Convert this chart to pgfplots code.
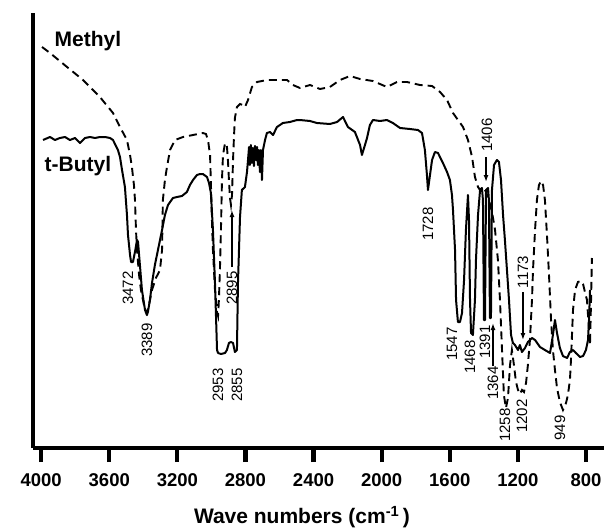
\documentclass[border=0pt]{standalone}
\usepackage{fontspec}
\setmainfont{Liberation Sans}
\usepackage{pgfplots}
\pgfplotsset{compat=1.18}
\usetikzlibrary{arrows.meta}

\begin{document}
\begin{tikzpicture}
\useasboundingbox (-33pt,-80pt) rectangle (571pt,448pt);
\begin{axis}[
  at={(0,0)}, anchor=south west,
  scale only axis, width=571pt, height=435pt,
  x dir=reverse, xmin=694, xmax=4048, ymin=0, ymax=435,
  axis x line=bottom, axis y line=left,
  axis line style={line width=4.2pt,-},
  xtick={4000,3600,...,800}, ytick=\empty,
  tick align=outside, major tick length=14pt,
  every tick/.style={line width=4.2pt,black},
  scaled ticks=false,
  /pgf/number format/1000 sep={},
  /pgf/number format/assume math mode=true,
  xticklabel style={font=\bfseries\fontsize{18.5}{20}\selectfont, yshift=-8pt},
  xlabel={Wave numbers (cm\textsuperscript{-1}\,)},
  xlabel style={font=\bfseries\fontsize{21}{24}\selectfont,
    at={(axis description cs:0.471,-0.1586)}, anchor=center},
  clip=false,
]
% t-Butyl (solid)
\addplot[black, line width=2pt, line join=round] coordinates {
(3989,308)(3948,311)(3919,308)(3890,310)(3860,311)(3831,308)(3801,310)(3772,305)
(3743,310)(3713,311)(3684,310)(3655,311)(3625,311)(3596,310)(3578,308)(3549,298)
(3537,291)(3525,278)(3508,261)(3496,233)(3490,213)(3478,193)(3472,186)(3461,186)
(3449,196)(3437,208)(3431,206)(3420,183)(3408,158)(3390,138)(3379,133)(3373,136)
(3361,148)(3349,165)(3332,183)(3314,198)(3290,218)(3273,233)(3255,243)(3226,250)
(3202,251)(3173,252)(3144,256)(3126,263)(3108,268)(3085,273)(3067,274)(3050,274)
(3026,271)(3014,265)(3003,255)(2991,218)(2979,165)(2967,98)(2961,95)(2944,94)
(2920,95)(2909,98)(2897,105)(2885,106)(2873,105)(2862,96)(2850,98)(2844,165)
(2832,231)(2821,258)(2803,261)(2791,276)(2785,288)(2779,301)(2774,283)(2768,303)
(2762,285)(2756,300)(2750,282)(2744,302)(2738,288)(2732,301)(2727,283)(2721,298)
(2715,276)(2709,298)(2703,268)(2697,298)(2685,308)(2674,315)(2656,316)(2638,313)
(2615,321)(2580,325)(2539,326)(2497,328)(2480,328)(2421,327)(2380,325)(2304,324)
(2262,326)(2227,331)(2198,321)(2157,316)(2127,303)(2116,293)(2098,303)(2086,310)
(2069,323)(2051,328)(2010,327)(1969,328)(1934,325)(1892,320)(1834,319)(1787,318)
(1763,315)(1746,298)(1734,273)(1728,258)(1716,273)(1704,288)(1687,296)(1669,295)
(1640,285)(1616,276)(1599,268)(1587,253)(1581,238)(1569,198)(1563,148)(1552,126)
(1540,126)(1528,135)(1516,168)(1505,218)(1493,253)(1487,228)(1481,148)(1475,115)
(1464,113)(1452,148)(1446,188)(1434,233)(1422,258)(1411,260)(1405,248)(1399,128)
(1393,128)(1387,258)(1375,260)(1370,248)(1364,130)(1358,130)(1352,258)(1340,283)
(1323,288)(1311,286)(1299,268)(1287,233)(1276,208)(1264,178)(1252,148)(1240,113)
(1229,105)(1217,103)(1199,98)(1188,103)(1176,96)(1158,100)(1141,106)(1117,110)
(1099,108)(1070,101)(1041,98)(1011,95)(994,113)(982,128)(970,115)(953,100)
(935,92)(911,90)(894,96)(876,98)(859,95)(835,91)(817,92)(800,98)(788,108)
(782,128)(776,158)
};
% Methyl (dashed)
\addplot[black, line width=1.9pt, dash pattern=on 8pt off 5pt] coordinates {
(3995,401)(3948,395)(3848,381)(3754,368)(3655,351)(3578,335)(3537,321)(3496,308)
(3478,293)(3467,281)(3455,263)(3449,248)(3443,218)(3437,198)(3425,173)(3414,158)
(3396,143)(3379,135)(3367,143)(3349,158)(3326,170)(3302,178)(3290,198)(3285,248)
(3273,268)(3261,281)(3243,298)(3214,308)(3167,311)(3108,313)(3050,315)(3032,314)
(3020,308)(3008,293)(3003,265)(2997,228)(2991,198)(2979,158)(2967,136)(2961,132)
(2956,148)(2950,178)(2944,218)(2938,268)(2932,293)(2920,305)(2909,302)(2903,288)
(2897,268)(2891,250)(2885,243)(2879,253)(2873,288)(2867,313)(2862,330)(2850,341)
(2832,344)(2815,343)(2803,341)(2785,348)(2762,361)(2732,366)(2674,368)(2615,368)
(2556,368)(2521,363)(2480,360)(2421,363)(2362,359)(2304,361)(2245,368)(2186,372)
(2127,369)(2051,367)(1969,361)(1910,366)(1851,366)(1775,363)(1704,362)(1657,356)
(1616,348)(1581,335)(1522,321)(1493,308)(1469,291)(1452,271)(1434,261)(1422,258)
(1405,261)(1387,256)(1370,248)(1352,236)(1334,218)(1317,188)(1305,148)(1293,98)
(1282,53)(1270,40)(1258,50)(1246,83)(1235,98)(1223,83)(1211,66)(1199,58)
(1188,54)(1176,58)(1164,56)(1152,65)(1141,83)(1129,108)(1117,148)(1111,178)
(1099,218)(1088,248)(1076,263)(1064,267)(1052,263)(1041,248)(1029,213)(1017,173)
(1005,128)(994,98)(982,78)(970,60)(953,46)(935,38)(917,45)(906,53)(894,68)
(888,88)(882,113)(876,138)(864,158)(847,166)(829,167)(817,164)(806,156)(794,148)
(782,118)(776,103)(770,148)(765,190)
};
% series names
\node[font=\bfseries\fontsize{21}{21}\selectfont] at (axis cs:3725,407) {Methyl};
\node[font=\bfseries\fontsize{21}{21}\selectfont] at (axis cs:3784,282) {t-Butyl};
% peak labels
\begin{scope}[every node/.style={rotate=90, font=\fontsize{15}{15}\selectfont, inner sep=0pt}]
\node at (axis cs:3490,160) {3472};
\node at (axis cs:3379,108) {3389};
\node at (axis cs:2961,63) {2953};
\node at (axis cs:2850,63) {2855};
\node at (axis cs:2879,160) {2895};
\node at (axis cs:1728,224) {1728};
\node at (axis cs:1381,313) {1406};
\node at (axis cs:1587,104) {1547};
\node at (axis cs:1481,91) {1468};
\node at (axis cs:1393,106) {1391};
\node at (axis cs:1346,65) {1364};
\node at (axis cs:1276,23) {1258};
\node at (axis cs:1176,32) {1202};
\node at (axis cs:1170,176) {1173};
\node at (axis cs:953,20) {949};
\end{scope}
% arrows
\draw[-{Latex[length=7pt,width=5pt]}, line width=1.6pt] (axis cs:2879,181) -- (axis cs:2879,238);
\draw[-{Latex[length=7pt,width=5pt]}, line width=1.6pt] (axis cs:1387,291) -- (axis cs:1387,266);
\draw[-{Latex[length=7pt,width=5pt]}, line width=1.6pt] (axis cs:1346,82) -- (axis cs:1346,125);
\draw[-{Latex[length=7pt,width=5pt]}, line width=1.6pt] (axis cs:1170,156) -- (axis cs:1170,108);
\end{axis}
\end{tikzpicture}
\end{document}
